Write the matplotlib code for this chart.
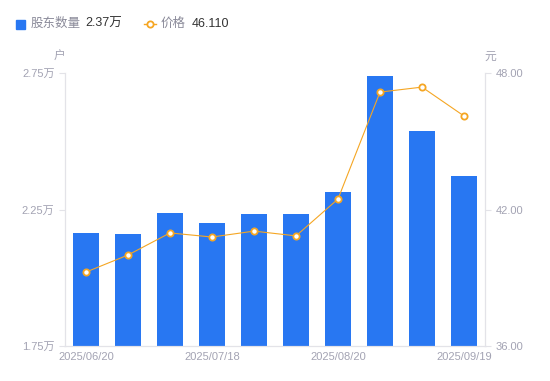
import matplotlib
matplotlib.use('Agg')
import matplotlib.pyplot as plt
from matplotlib.lines import Line2D

plt.rcParams['font.family'] = ['Liberation Sans', 'Noto Sans CJK SC']

# 数据
dates = ['2025/06/20', '2025/06/30', '2025/07/10', '2025/07/18', '2025/07/31',
         '2025/08/08', '2025/08/20', '2025/08/29', '2025/09/10', '2025/09/19']
holders = [2.164, 2.160, 2.237, 2.200, 2.234, 2.234, 2.314, 2.739, 2.538, 2.373]  # 万户
price = [39.25, 40.00, 40.97, 40.79, 41.05, 40.84, 42.46, 47.16, 47.38, 46.11]    # 元

bar_color = '#2877f2'
line_color = '#f5a623'
tick_color = '#a3a3b3'
spine_color = '#e3e3e8'

fig = plt.figure(figsize=(5.5, 3.81), dpi=100)
ax = fig.add_axes([65/550, 35/381, 420/550, 273/381])
x = list(range(len(dates)))
ax.bar(x, holders, width=0.6, color=bar_color, zorder=2)
ax.set_xlim(-0.5, len(dates) - 0.5)
ax.set_ylim(1.75, 2.75)
ax.set_yticks([1.75, 2.25, 2.75])
ax.set_yticklabels(['1.75万', '2.25万', '2.75万'])
ax.set_xticks([0, 3, 6, 9])
ax.set_xticklabels([dates[i] for i in [0, 3, 6, 9]])

ax2 = ax.twinx()
ax2.plot(x, price, color=line_color, lw=0.8, marker='o', ms=4.5,
         mfc='white', mec=line_color, mew=1.3, zorder=3)
ax2.set_ylim(36, 48)
ax2.set_yticks([36, 42, 48])
ax2.set_yticklabels(['36.00', '42.00', '48.00'])

for a in (ax, ax2):
    for s in a.spines.values():
        s.set_color(spine_color)
    a.spines['top'].set_visible(False)
    a.tick_params(colors=tick_color, labelsize=8, length=4, width=0.8)
    a.tick_params(axis='y', color=spine_color, labelcolor=tick_color)
ax.tick_params(axis='x', length=0, pad=4)
ax2.tick_params(axis='x', length=0)

# 单位
fig.text(59/550, 1 - 57/381, '户', fontsize=8.5, color=tick_color, ha='center', va='center')
fig.text(490/550, 1 - 57/381, '元', fontsize=8.5, color=tick_color, ha='center', va='center')

# 图例
ly = 1 - 24/381
fig.patches.append(plt.Rectangle((16/550, ly - 4.5/381), 9/550, 9/381,
                                 transform=fig.transFigure, color=bar_color))
fig.text(31/550, ly, '股东数量', fontsize=9, color='#8a8a99', va='center')
fig.text(85/550, ly, '2.37万', fontsize=9, color='#333333', va='center')
fig.lines.append(Line2D([144/550, 156/550], [ly, ly], transform=fig.transFigure,
                        color=line_color, lw=1))
fig.lines.append(Line2D([150/550], [ly], transform=fig.transFigure, marker='o', ms=4.5,
                        mfc='white', mec=line_color, mew=1.3, lw=0))
fig.text(161/550, ly, '价格', fontsize=9, color='#8a8a99', va='center')
fig.text(192/550, ly, '46.110', fontsize=9, color='#333333', va='center')

fig.savefig('out.png', dpi=100, facecolor='white')
